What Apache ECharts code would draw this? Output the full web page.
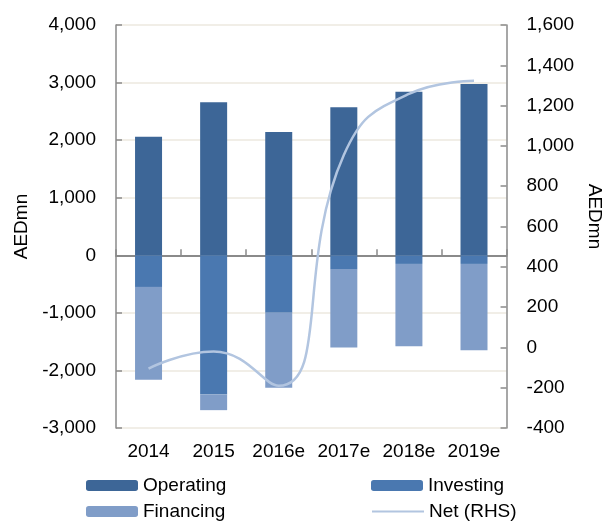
<!DOCTYPE html>
<html>
<head>
<meta charset="utf-8">
<script src="https://cdn.jsdelivr.net/npm/echarts@6/dist/echarts.min.js"></script>
<style>
html,body{margin:0;padding:0;background:#fff;}
#chart{width:612px;height:521px;}
</style>
</head>
<body>
<div id="chart"></div>
<script>
var categories = ['2014', '2015', '2016e', '2017e', '2018e', '2019e'];
var operating = [2060, 2660, 2140, 2570, 2840, 2975];
var investing = [-550, -2420, -1000, -240, -150, -150];
var financing = [-1610, -270, -1300, -1360, -1430, -1500];
var net = [-105, -20, -190, 955, 1258, 1323];
var leftTicks = { min: -3000, max: 4000, interval: 1000 };
var rightTicks = { min: -400, max: 1600, interval: 200 };

var FONT = 'Liberation Sans, Arial, sans-serif';
var axisGray = '#8a8a8a';
var gridColor = '#ECE8DF';
function fmt(v) { return v.toLocaleString('en-US'); }

var chart = echarts.init(document.getElementById('chart'), null, { renderer: 'canvas' });
var legendText = { fontFamily: FONT, fontSize: 19, color: '#000' };
chart.setOption({
  animation: false,
  backgroundColor: '#fff',
  grid: { left: 116, right: 89, top: 25, bottom: 93, containLabel: false },
  legend: [
    { data: ['Operating'], left: 86, top: 476, itemWidth: 52, itemHeight: 11, textStyle: legendText, padding: 0 },
    { data: ['Investing'], left: 371, top: 476, itemWidth: 52, itemHeight: 11, textStyle: legendText, padding: 0 },
    { data: ['Financing'], left: 86, top: 502, itemWidth: 52, itemHeight: 11, textStyle: legendText, padding: 0 },
    { data: [{ name: 'Net (RHS)', itemStyle: { opacity: 0 } }], left: 371, top: 502, itemWidth: 52, itemHeight: 11, textStyle: legendText, padding: 0 }
  ],
  xAxis: [
    {
      type: 'category', data: categories, position: 'bottom',
      axisLine: { show: false, onZero: false },
      axisTick: { show: false },
      axisLabel: { fontFamily: FONT, fontSize: 19, color: '#000', margin: 14, interval: 0 },
      splitLine: { show: false }
    },
    {
      type: 'category', data: categories, position: 'bottom',
      axisLine: { show: true, onZero: true, lineStyle: { color: axisGray, width: 2 } },
      axisTick: { show: true, inside: true, length: 6, lineStyle: { color: axisGray, width: 1.5 } },
      axisLabel: { show: false },
      splitLine: { show: false }
    }
  ],
  yAxis: [
    {
      type: 'value', min: leftTicks.min, max: leftTicks.max, interval: leftTicks.interval,
      name: 'AEDmn', nameLocation: 'middle', nameGap: 82, nameRotate: 90,
      nameTextStyle: { fontFamily: FONT, fontSize: 19, color: '#000' },
      axisLine: { show: true, lineStyle: { color: axisGray, width: 1.5 } },
      axisTick: { show: true, inside: true, length: 6, lineStyle: { color: axisGray, width: 1.5 } },
      axisLabel: { fontFamily: FONT, fontSize: 19, color: '#000', margin: 20, formatter: fmt },
      splitLine: { show: true, lineStyle: { color: gridColor, width: 1.5 } }
    },
    {
      type: 'value', min: rightTicks.min, max: rightTicks.max, interval: rightTicks.interval,
      position: 'right',
      name: 'AEDmn', nameLocation: 'middle', nameGap: 68, nameRotate: -90,
      nameTextStyle: { fontFamily: FONT, fontSize: 19, color: '#000', padding: [0, 20, 0, 0] },
      axisLine: { show: true, lineStyle: { color: axisGray, width: 1.5 } },
      axisTick: { show: true, inside: true, length: 6, lineStyle: { color: axisGray, width: 1.5 } },
      axisLabel: { fontFamily: FONT, fontSize: 19, color: '#000', margin: 20, formatter: fmt },
      splitLine: { show: false }
    }
  ],
  series: [
    { name: 'Operating', type: 'bar', stack: 'cf', data: operating, barWidth: 27, itemStyle: { color: '#3D6697' } },
    { name: 'Investing', type: 'bar', stack: 'cf', data: investing, barWidth: 27, itemStyle: { color: '#4A78B0' } },
    { name: 'Financing', type: 'bar', stack: 'cf', data: financing, barWidth: 27, itemStyle: { color: '#809DC8' } },
    {
      name: 'Net (RHS)', type: 'line', yAxisIndex: 1, data: net, smooth: 0.5,
      symbol: 'none', showSymbol: false,
      lineStyle: { color: '#B2C5E0', width: 2.5 }, itemStyle: { color: '#B2C5E0' }, z: 5
    }
  ]
});
</script>
</body>
</html>
